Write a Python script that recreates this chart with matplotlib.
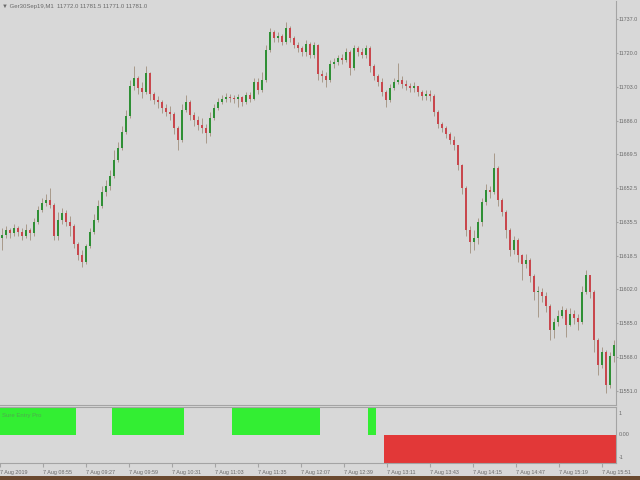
"""
Ger30 M1 chart with entry-signal histogram, MT4 look.
Output: out.png (640x480)
"""
import matplotlib; matplotlib.use('Agg')
import matplotlib.pyplot as plt
from matplotlib.patches import Rectangle
import numpy as np

plt.rcParams['font.family'] = ['Liberation Sans', 'DejaVu Sans']

TITLE = '\u25bc Ger30Sep19,M1  11772.0 11781.5 11771.0 11781.0'
IND_NAME = 'Sure Entry Pro'

# candles (open of each bar = previous close)
OPEN0 = 11627.5
CLOSE = [11629.0,11631.5,11630.0,11632.5,11630.5,11628.5,11631.5,11630.0,11635.5,11641.5,
         11645.0,11646.5,11644.0,11628.5,11636.5,11640.0,11635.5,11633.5,11624.5,11619.0,
         11615.5,11623.5,11630.5,11636.5,11643.5,11650.5,11653.5,11658.5,11666.5,11672.5,
         11680.5,11688.5,11703.5,11707.5,11702.5,11700.5,11710.0,11699.5,11696.5,11695.5,
         11692.5,11690.5,11689.5,11682.5,11676.5,11691.5,11695.5,11689.0,11686.5,11684.0,
         11682.5,11680.0,11687.5,11692.5,11695.5,11697.0,11698.0,11697.5,11697.0,11698.0,
         11695.5,11699.0,11697.0,11705.5,11701.5,11706.5,11721.5,11730.5,11727.5,11728.5,
         11725.5,11732.5,11727.5,11724.0,11722.5,11720.5,11724.5,11719.0,11724.0,11709.5,
         11708.5,11706.5,11714.5,11715.5,11717.5,11716.5,11720.5,11712.5,11722.5,11720.5,
         11719.0,11722.5,11713.5,11708.5,11705.5,11700.5,11696.5,11702.5,11705.5,11706.5,
         11704.5,11703.5,11702.5,11703.5,11700.5,11698.5,11699.5,11698.5,11690.5,11684.5,
         11682.5,11679.5,11676.5,11674.0,11664.0,11652.5,11631.5,11625.5,11627.5,11635.5,
         11645.5,11651.5,11650.5,11662.5,11646.5,11640.5,11631.5,11621.5,11626.5,11619.0,
         11614.5,11616.5,11608.5,11600.5,11600.5,11598.5,11593.5,11581.5,11585.5,11588.5,
         11591.5,11584.0,11589.5,11587.5,11585.5,11600.5,11609.0,11600.5,11576.5,11564.0,
         11570.5,11554.0,11568.5,11574.0]
HIGH = [11632.5,11633.5,11632.5,11634.5,11633.5,11632.5,11634.5,11632.5,11637.5,11643.5,
        11647.5,11649.5,11652.5,11645.0,11640.5,11642.5,11641.5,11638.5,11634.5,11625.5,
        11621.5,11624.5,11632.5,11639.5,11646.5,11653.5,11656.5,11661.5,11671.5,11675.5,
        11683.5,11691.5,11706.5,11713.5,11708.5,11705.5,11713.5,11710.5,11700.5,11698.5,
        11696.5,11694.5,11693.5,11690.5,11683.5,11694.5,11699.0,11696.5,11690.5,11688.5,
        11687.5,11684.5,11690.5,11694.5,11697.5,11699.0,11700.0,11699.5,11699.0,11699.5,
        11698.5,11700.5,11700.5,11707.5,11707.5,11710.5,11724.0,11732.5,11731.5,11730.5,
        11729.5,11735.5,11733.5,11728.5,11725.5,11723.5,11726.5,11725.5,11725.5,11724.5,
        11711.5,11710.5,11716.5,11717.5,11719.0,11719.5,11722.5,11721.5,11724.0,11723.5,
        11722.5,11724.0,11723.5,11714.5,11709.5,11707.5,11701.5,11704.5,11707.5,11715.0,
        11708.5,11706.5,11705.0,11705.5,11703.5,11701.5,11701.5,11701.5,11699.5,11691.5,
        11685.5,11683.5,11680.5,11678.5,11674.0,11664.5,11653.5,11633.5,11631.5,11637.5,
        11647.5,11654.5,11653.5,11670.0,11663.5,11647.5,11641.5,11632.5,11628.5,11627.5,
        11619.5,11619.5,11617.5,11609.5,11603.5,11602.5,11600.5,11594.5,11587.5,11591.5,
        11593.5,11592.5,11592.5,11591.5,11589.5,11603.5,11611.5,11608.5,11601.5,11577.5,
        11573.0,11571.5,11570.5,11576.5]
LOW = [11621.5,11627.5,11627.5,11628.5,11628.5,11626.5,11627.5,11626.5,11628.5,11634.5,
       11640.5,11643.5,11642.5,11626.5,11626.5,11634.5,11633.5,11628.5,11622.5,11616.5,
       11613.0,11614.5,11622.5,11629.5,11635.5,11642.5,11648.5,11651.5,11657.5,11665.5,
       11671.5,11679.5,11687.5,11701.5,11699.5,11697.5,11699.5,11696.5,11694.5,11692.5,
       11690.0,11688.5,11686.5,11679.5,11671.5,11675.5,11690.5,11686.5,11683.5,11681.5,
       11680.0,11675.0,11678.5,11686.5,11691.5,11694.5,11695.5,11695.5,11695.0,11693.0,
       11693.5,11694.5,11695.5,11696.5,11699.5,11700.5,11705.5,11720.5,11725.5,11725.5,
       11724.0,11724.5,11725.5,11722.5,11720.5,11718.5,11718.5,11717.5,11717.5,11706.5,
       11705.5,11703.0,11705.5,11712.5,11714.0,11714.5,11715.5,11709.0,11711.5,11718.5,
       11717.5,11717.5,11710.5,11706.5,11703.5,11698.5,11693.0,11695.5,11701.5,11704.5,
       11702.5,11701.5,11700.5,11700.5,11698.5,11696.5,11696.5,11696.0,11688.5,11682.5,
       11680.5,11677.5,11674.5,11671.5,11661.5,11649.5,11628.5,11620.0,11621.5,11624.5,
       11633.5,11644.0,11647.5,11649.5,11643.5,11638.5,11627.5,11618.5,11619.5,11615.5,
       11606.5,11612.5,11605.5,11596.5,11588.0,11595.5,11590.5,11576.5,11577.5,11583.5,
       11587.5,11578.0,11583.5,11584.5,11581.5,11584.5,11599.5,11597.5,11570.5,11559.0,
       11562.5,11550.0,11552.5,11565.5]

PRICE_TICKS = [11737.0,11720.0,11703.0,11686.0,11669.5,11652.5,11635.5,11618.5,
               11602.0,11585.0,11568.0,11551.0]
TIME_LABELS = ['7 Aug 2019','7 Aug 08:55','7 Aug 09:27','7 Aug 09:59','7 Aug 10:31',
               '7 Aug 11:03','7 Aug 11:35','7 Aug 12:07','7 Aug 12:39','7 Aug 13:11',
               '7 Aug 13:43','7 Aug 14:15','7 Aug 14:47','7 Aug 15:19','7 Aug 15:51']
TIME_MIN = [0,32,64,96,128,160,192,224,256,288,320,352,384,416,448]   # minutes after 08:23

# indicator histogram: (value, number of bars)
SIG_RUNS = [(1,19),(0,9),(1,18),(0,12),(1,22),(0,12),(1,2),(0,2),(-1,58)]

BG = '#d8d8d8'; FRAME = '#a4a4a4'; TXT = '#6a6a6a'
BULL = '#2f8f35'; BEAR = '#c8474d'; WICK = '#a89a8a'
BAR_MIN = 2.977   # chart minutes per drawn bar
FS = 3.9

W, H = 640, 480
fig = plt.figure(figsize=(6.4,4.8), dpi=100, facecolor=BG)

def fr(x0,y0,x1,y1): return [x0/W, 1-y1/H, (x1-x0)/W, (y1-y0)/H]

n = len(CLOSE)
t = 1.5 + BAR_MIN*np.arange(n)
opens = np.r_[OPEN0, CLOSE[:-1]]
close = np.array(CLOSE); hi = np.array(HIGH); lo = np.array(LOW)
xmax = 616/1.34375

ax = fig.add_axes(fr(0,1,616,405), facecolor=BG)
up = close >= opens
ax.vlines(t, lo, hi, color=WICK, linewidth=0.7, zorder=2)
bw = BAR_MIN*0.6
for ti,o,c,u in zip(t,opens,close,up):
    b = min(o,c); h = max(abs(c-o),0.4)
    ax.add_patch(Rectangle((ti-bw/2,b), bw, h, facecolor=BULL if u else BEAR, edgecolor='none', zorder=3))
ax.set_xlim(0,xmax); ax.set_ylim(11544.0,11746.0)
ax.yaxis.tick_right()
ax.set_yticks(PRICE_TICKS); ax.set_yticklabels([f'{p:.1f}' for p in PRICE_TICKS])
ax.tick_params(axis='y', labelsize=FS, colors=FRAME, labelcolor=TXT, length=1.5, pad=0.4)
ax.set_xticks([])
for s in ax.spines.values(): s.set_color(FRAME); s.set_linewidth(0.8)
ax.spines['left'].set_visible(False); ax.spines['top'].set_visible(False)
ax.text(0.004,0.992,TITLE,transform=ax.transAxes,fontsize=FS+0.4,color=TXT,ha='left',va='top')

# indicator panel
ax2 = fig.add_axes(fr(0,407,616,463), facecolor=BG)
sig = np.concatenate([[v]*k for v,k in SIG_RUNS])
cols = ['#33ee33' if v>0 else '#e23838' for v in sig]
ax2.bar(t, sig, width=BAR_MIN*1.01, color=cols, linewidth=0, zorder=2)
ax2.set_xlim(0,xmax); ax2.set_ylim(-1,1)
ax2.set_yticks([])
ax2.text(1.004,0.93,'1',transform=ax2.transAxes,fontsize=FS,color=TXT,va='top',ha='left')
ax2.text(1.004,0.5,'0.00',transform=ax2.transAxes,fontsize=FS,color=TXT,va='center',ha='left')
ax2.text(1.004,0.05,'-1',transform=ax2.transAxes,fontsize=FS,color=TXT,va='bottom',ha='left')
ax2.text(0.004,0.9,IND_NAME,transform=ax2.transAxes,fontsize=FS+0.4,color='#4fa84f',va='top',ha='left',zorder=3)
ax2.set_xticks(TIME_MIN)
ax2.set_xticklabels(TIME_LABELS, ha='left')
ax2.tick_params(axis='x', labelsize=FS, colors=FRAME, labelcolor=TXT, length=3, pad=2, direction='out')
for s in ax2.spines.values(): s.set_color(FRAME); s.set_linewidth(0.8)
ax2.spines['left'].set_visible(False)

# desktop strip under the terminal window
fig.patches.append(Rectangle((0,0),1,4/H,transform=fig.transFigure,facecolor='#6b4a30',edgecolor='none'))

fig.savefig('out.png', dpi=100, facecolor=BG)
